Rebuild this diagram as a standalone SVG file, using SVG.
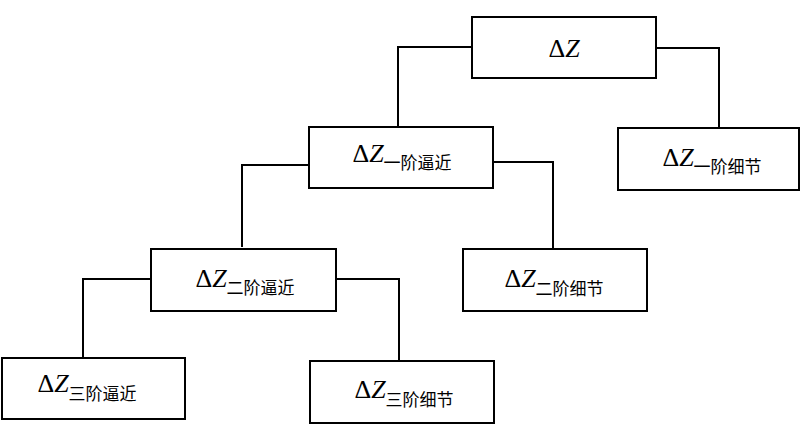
<svg xmlns="http://www.w3.org/2000/svg" width="800" height="439" viewBox="0 0 800 439">
<style>
.box{fill:#fff;stroke:#000;stroke-width:2}
.lbl{font-family:"Liberation Serif","Times New Roman",serif;font-size:26px;fill:#000;text-anchor:middle}
.it{font-style:italic}
.sub{font-family:"Noto Sans CJK SC","Noto Sans",sans-serif;font-size:17px;font-style:normal}
.conn{fill:none;stroke:#000;stroke-width:2}
</style>
<rect width="800" height="439" fill="#fff"/>
<g id="connectors" class="conn">
<path d="M472,47 H398 V127"/>
<path d="M656,48 H719 V128"/>
<path d="M309,165 H242 V247"/>
<path d="M493,162 H553 V249"/>
<path d="M151,279 H83 V358"/>
<path d="M336,279 H399 V361"/>
</g>
<g id="root">
<rect class="box" x="472" y="17" width="184" height="61"/>
<text class="lbl" x="564" y="57">Δ<tspan class="it">Z</tspan></text>
</g>
<g id="approx1">
<rect class="box" x="309" y="127" width="184" height="61"/>
<text class="lbl" x="402" y="162">Δ<tspan class="it">Z</tspan><tspan class="sub" dy="7">一阶逼近</tspan></text>
</g>
<g id="detail1">
<rect class="box" x="618" y="128" width="181" height="62"/>
<text class="lbl" x="712" y="166">Δ<tspan class="it">Z</tspan><tspan class="sub" dy="7">一阶细节</tspan></text>
</g>
<g id="approx2">
<rect class="box" x="151" y="249" width="185" height="62"/>
<text class="lbl" x="245" y="287">Δ<tspan class="it">Z</tspan><tspan class="sub" dy="7">二阶逼近</tspan></text>
</g>
<g id="detail2">
<rect class="box" x="463" y="249" width="184" height="62"/>
<text class="lbl" x="554" y="287">Δ<tspan class="it">Z</tspan><tspan class="sub" dy="8">二阶细节</tspan></text>
</g>
<g id="approx3">
<rect class="box" x="2" y="358" width="183" height="61"/>
<text class="lbl" x="87" y="392">Δ<tspan class="it">Z</tspan><tspan class="sub" dy="8">三阶逼近</tspan></text>
</g>
<g id="detail3">
<rect class="box" x="310" y="361" width="184" height="62"/>
<text class="lbl" x="404" y="398">Δ<tspan class="it">Z</tspan><tspan class="sub" dy="8">三阶细节</tspan></text>
</g>
</svg>
